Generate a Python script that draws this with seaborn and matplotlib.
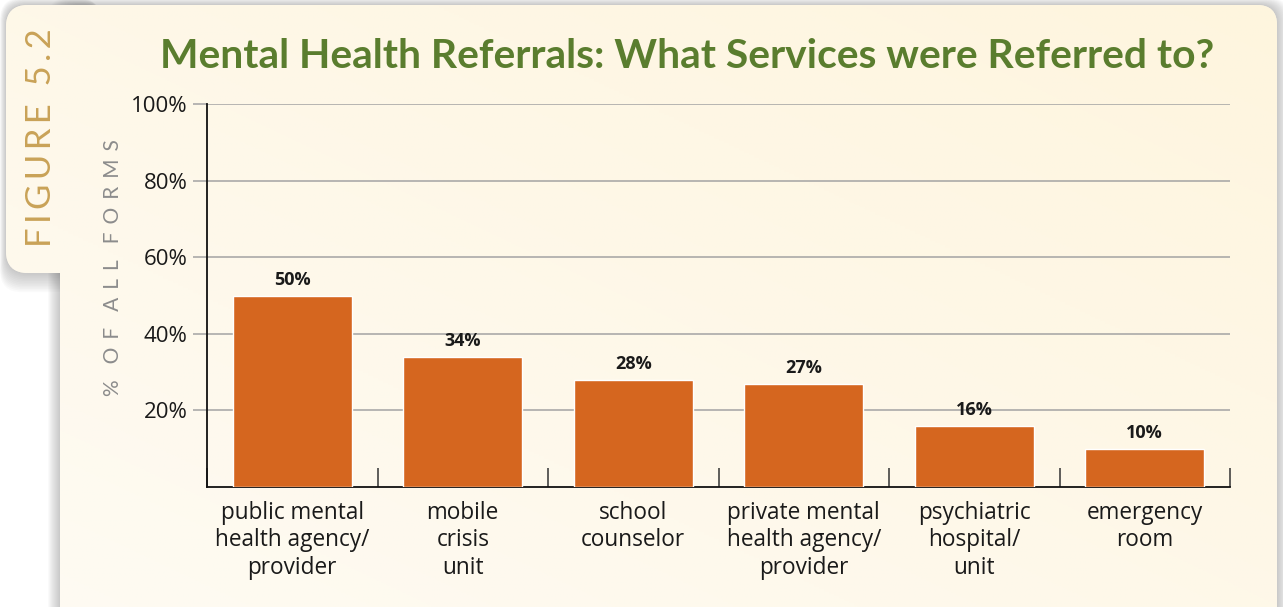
import numpy as np
import matplotlib
matplotlib.use("Agg")
import matplotlib.pyplot as plt
from matplotlib.patches import FancyBboxPatch
from matplotlib.ticker import FixedLocator
import seaborn as sns

# ── Data ────────────────────────────────────────────────────────────────────
categories = [
    "public mental\nhealth agency/\nprovider",
    "mobile\ncrisis\nunit",
    "school\ncounselor",
    "private mental\nhealth agency/\nprovider",
    "psychiatric\nhospital/\nunit",
    "emergency\nroom",
]
percent_referred = [50, 34, 28, 27, 16, 10]
y_ticks = [20, 40, 60, 80, 100]
y_tick_labels = ["20%", "40%", "60%", "80%", "100%"]

TITLE = "Mental Health Referrals: What Services were Referred to?"
BAR_COLOR = "#D5661F"
TITLE_COLOR = "#5A7D2E"
GOLD = "#C9A257"
LABEL_FONT = ["Open Sans", "DejaVu Sans"]

sns.set_theme(style="white")
plt.rcParams["font.family"] = ["Lato", "DejaVu Sans"]

W, H = 1283, 607
fig = plt.figure(figsize=(W / 100, H / 100), dpi=100, facecolor="#FFFFFF")

# ── Background panel (pixel coordinates) ────────────────────────────────────
bg = fig.add_axes([0, 0, 1, 1], zorder=-5)
bg.set_xlim(0, W)
bg.set_ylim(H, 0)
bg.axis("off")

# soft shadow
for k in range(12):
    grow = 12 - k
    a = 0.025
    bg.add_patch(FancyBboxPatch((60 - grow, 5 - grow * 0.6), 1217 + 2 * grow, 700,
                                boxstyle="round,pad=0,rounding_size=20",
                                fc="#404040", ec="none", alpha=a))
    bg.add_patch(FancyBboxPatch((6 - grow * 0.5, 5 - grow * 0.6), 100, 268 + grow * 2.2,
                                boxstyle="round,pad=0,rounding_size=22",
                                fc="#404040", ec="none", alpha=a))

grad = np.linspace(0, 1, 256).reshape(1, -1)
grad = grad * np.ones((256, 1)) * 0.5 + np.linspace(1, 0, 256).reshape(-1, 1) * 0.5
cmap = matplotlib.colors.LinearSegmentedColormap.from_list("cream", ["#FEFBF3", "#FEF5DE"])

main_panel = FancyBboxPatch((60, 5), 1217, 700, boxstyle="round,pad=0,rounding_size=20",
                            fc="#FEF8EA", ec="none")
tab_panel = FancyBboxPatch((6, 5), 100, 268, boxstyle="round,pad=0,rounding_size=22",
                           fc="#FEF8EA", ec="none")
for p in (main_panel, tab_panel):
    bg.add_patch(p)
    im = bg.imshow(grad, cmap=cmap, extent=(0, W, H, 0), aspect="auto", zorder=2)
    im.set_clip_path(p)

thin = "\u2009"
fig_label = thin.join("FIGURE") + "  " + thin.join("5.2")
bg.text(41, 138, fig_label, rotation=90, ha="center", va="center",
        fontsize=25, color=GOLD, zorder=3)
bg.text(687, 57, TITLE, ha="center", va="center", fontsize=29.3, fontweight="bold",
        color=TITLE_COLOR, zorder=3)
sp = " " + thin
ylab = (sp + sp).join([sp.join("%"), sp.join("OF"), sp.join("ALL"), sp.join("FORMS")])
bg.text(113, 268, ylab, rotation=90, ha="center", va="center",
        fontsize=15, color="#8C8C8C", zorder=3)

# ── Chart ───────────────────────────────────────────────────────────────────
ax = fig.add_axes([207 / W, 1 - 487 / H, (1230 - 207) / W, (487 - 104) / H])
ax.set_facecolor("none")

sns.barplot(x=categories, y=percent_referred, color=BAR_COLOR, saturation=1,
            width=0.7, ax=ax, zorder=3)
ax.bar_label(ax.containers[0], fmt="{:.0f}%", padding=5, fontsize=13,
             fontweight="bold", color="#1A1A1A", family=LABEL_FONT)

ax.set_ylim(0, 100)
ax.set_xlim(-0.5, len(categories) - 0.5)
ax.set_yticks(y_ticks)
ax.set_yticklabels(y_tick_labels, fontsize=16, color="#1A1A1A", family=LABEL_FONT)
ax.yaxis.grid(True, color="#A3A3A3", linewidth=1.1)
ax.set_axisbelow(True)
ax.tick_params(axis="y", which="major", length=10, width=1.1, color="#A3A3A3",
               left=True, pad=4)

ax.xaxis.set_minor_locator(FixedLocator(np.arange(-0.5, len(categories), 1)))
ax.tick_params(axis="x", which="major", length=0, pad=10, labelsize=16.3,
               labelcolor="#1A1A1A")
ax.tick_params(axis="x", which="minor", direction="in", length=14, width=1.1,
               color="#333333", bottom=True)
for lbl in ax.get_xticklabels():
    lbl.set_family(LABEL_FONT)
    lbl.set_linespacing(1.2)

for side in ("top", "right"):
    ax.spines[side].set_visible(False)
for side in ("left", "bottom"):
    ax.spines[side].set_color("#111111")
    ax.spines[side].set_linewidth(1.3)
ax.set_xlabel("")
ax.set_ylabel("")

fig.savefig("out.png", dpi=100)
